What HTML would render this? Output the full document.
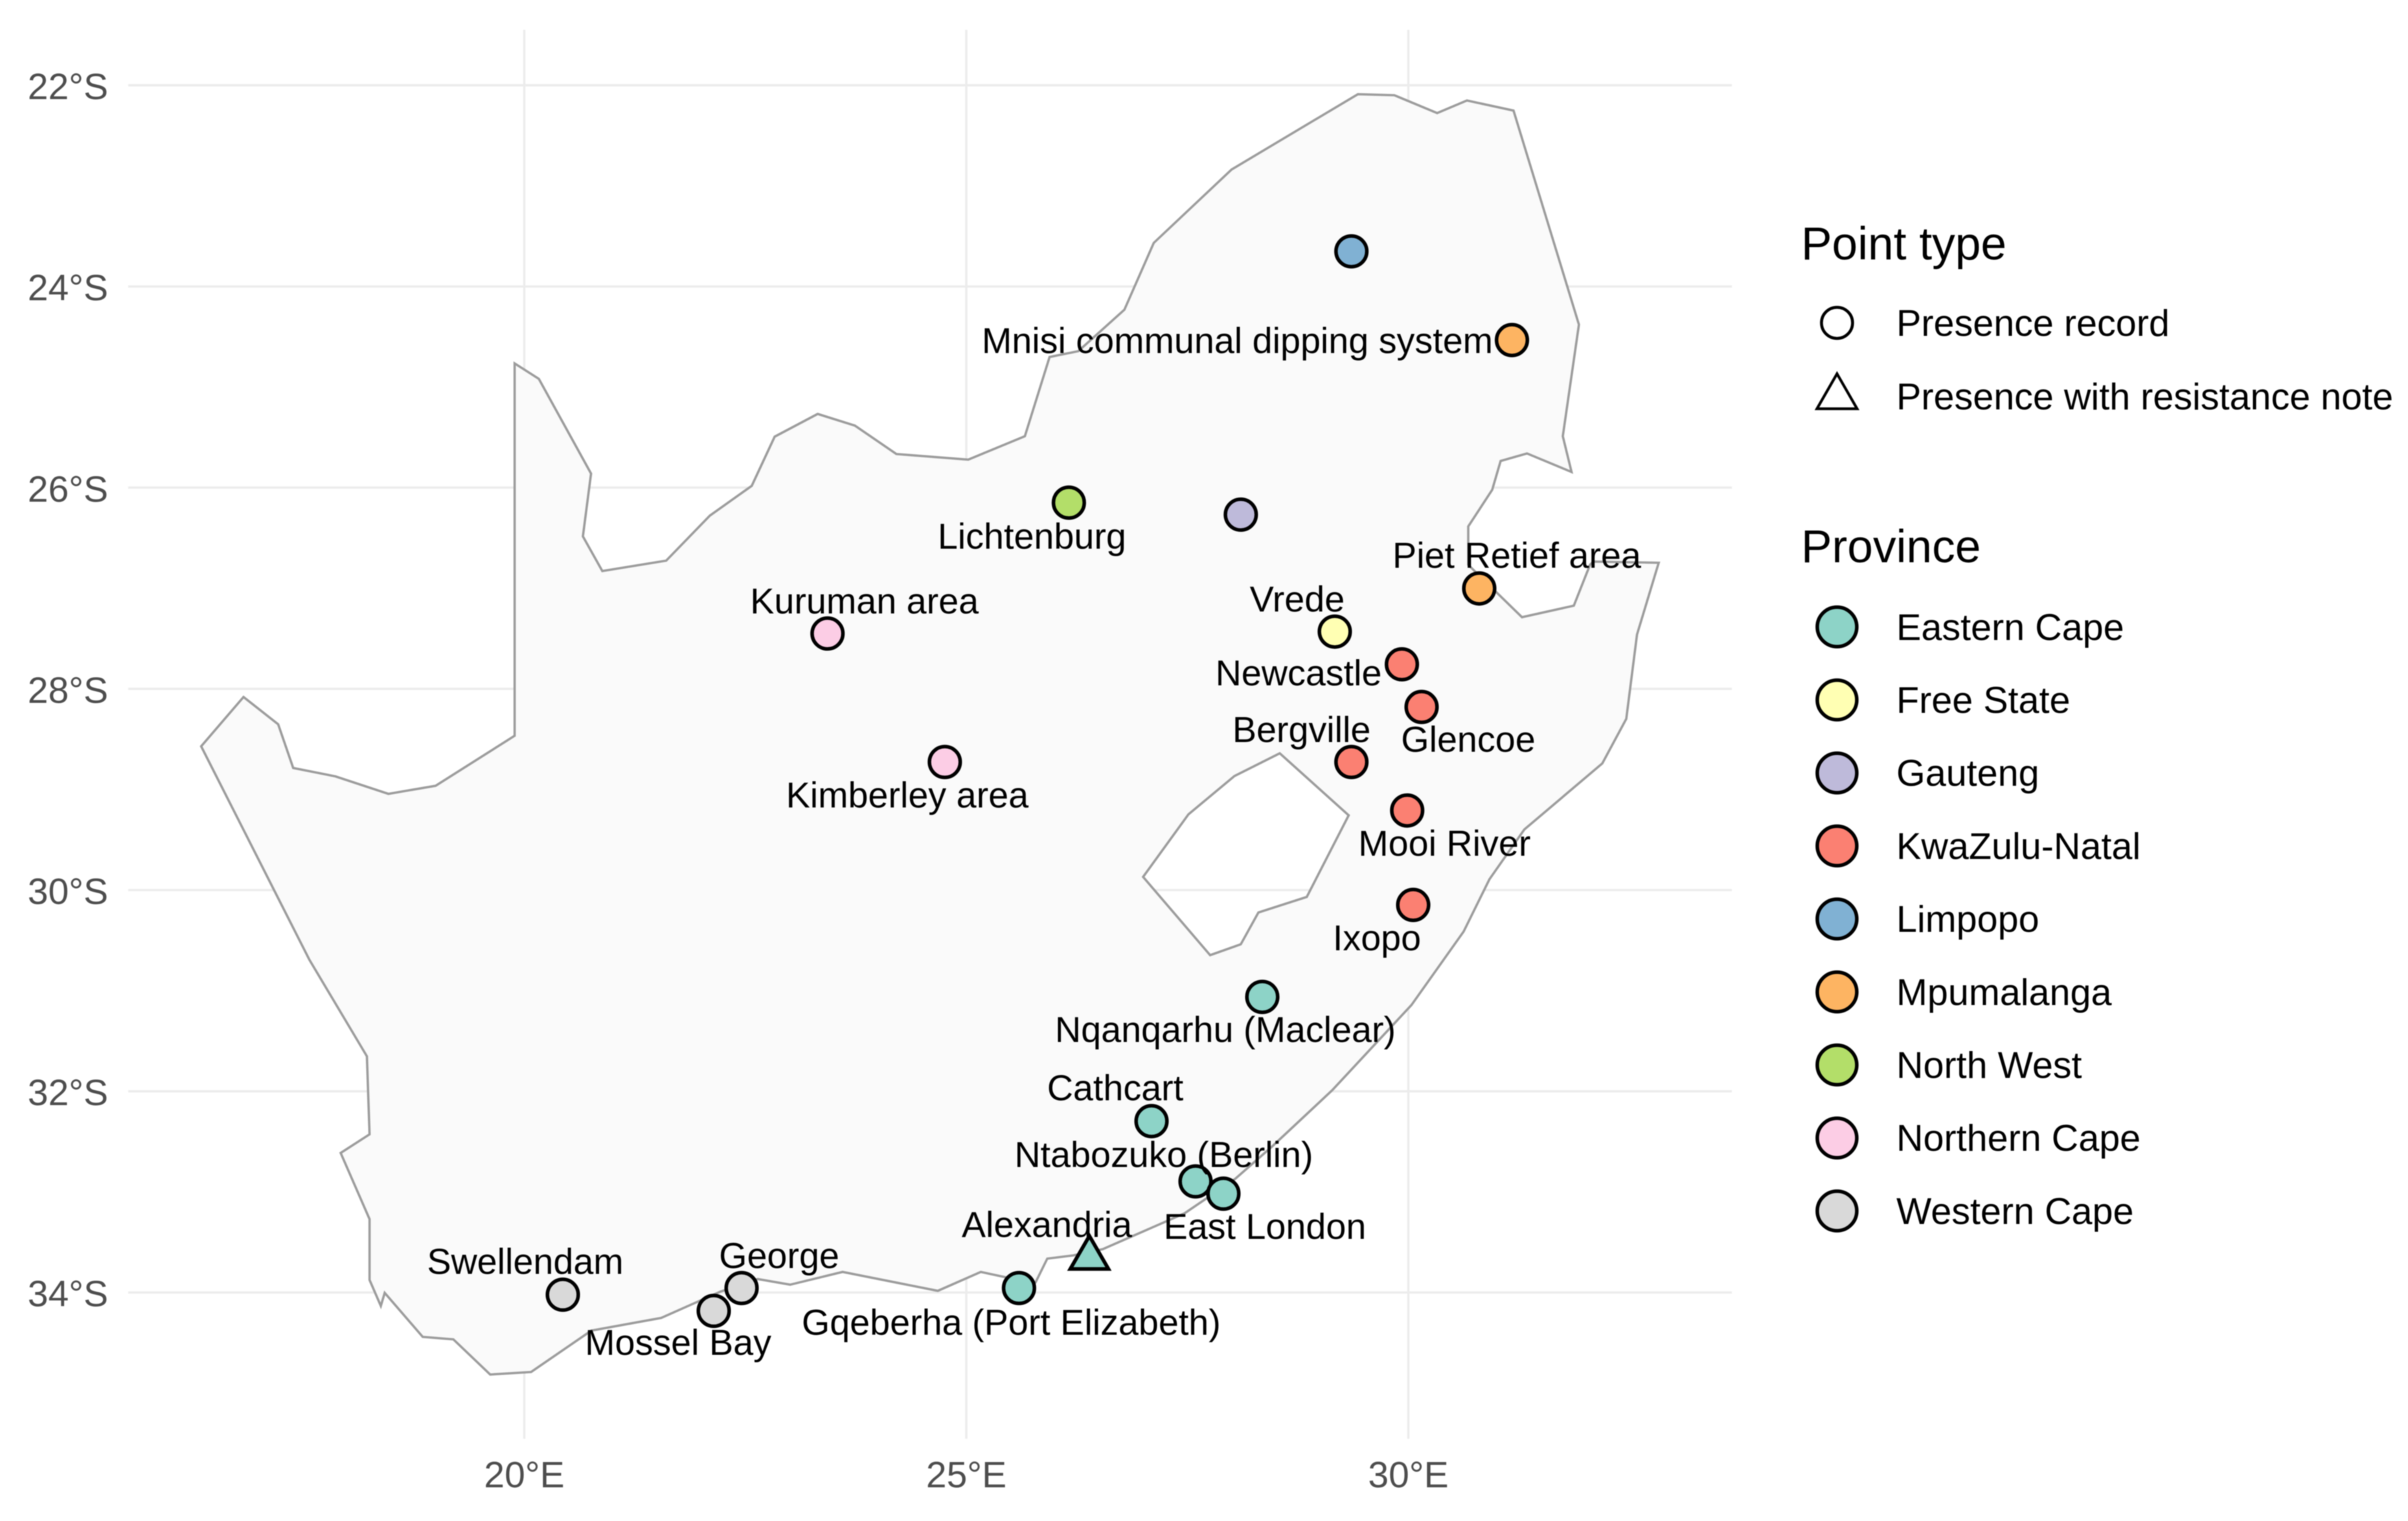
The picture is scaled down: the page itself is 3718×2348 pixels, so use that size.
<!DOCTYPE html>
<html lang="en">
<head>
<meta charset="utf-8">
<title>Presence records in South Africa</title>
<style>
html,body{margin:0;padding:0;background:#fff;width:3718px;height:2348px;overflow:hidden}
svg{display:block;font-family:"Liberation Sans",Arial,sans-serif;filter:blur(0.8px)}
</style>
</head>
<body>
<svg id="chart" xmlns="http://www.w3.org/2000/svg" width="3718" height="2348" viewBox="0 0 3718 2348">
  <rect x="-10" y="-10" width="3738" height="2368" fill="#ffffff"/>
  <g id="grid"></g>
  <g id="axes"></g>
  <g id="map"></g>
  <g id="points"></g>
  <g id="labels"></g>
  <g id="legend"></g>
</svg>
<script>
/* ---------- data ---------- */
const lonTicks = [20, 25, 30];
const latTicks = [22, 24, 26, 28, 30, 32, 34];
const lonTickLabels = ["20°E", "25°E", "30°E"];
const latTickLabels = ["22°S", "24°S", "26°S", "28°S", "30°S", "32°S", "34°S"];

const outlineLon = [19.891,20.165,20.755,20.663,20.883,21.605,22.099,22.573,22.832,23.319,23.740,24.209,25.022,25.662,25.942,26.267,26.788,27.120,28.001,29.429,29.842,30.326,30.663,31.190,31.930,31.747,31.846,31.342,31.044,30.949,30.678,30.678,31.286,31.872,32.055,32.092,32.832,32.587,32.465,32.194,31.312,30.917,30.626,30.036,29.139,28.458,28.040,27.469,26.543,26.209,25.916,25.784,25.450,25.164,24.678,23.601,23.007,22.641,22.216,21.549,20.758,20.077,19.615,19.198,18.851,18.421,18.377,18.250,18.250,17.923,18.250,18.220,17.570,16.345,16.824,17.216,17.386,17.864,18.463,18.997,19.891];
const outlineLat = [24.765,24.919,25.860,26.484,26.829,26.726,26.278,25.982,25.493,25.267,25.383,25.666,25.721,25.489,24.701,24.643,24.231,23.567,22.838,22.089,22.099,22.276,22.151,22.252,24.379,25.489,25.844,25.660,25.735,26.021,26.386,26.767,27.288,27.173,26.767,26.735,26.746,27.460,28.298,28.741,29.398,29.893,30.412,31.142,31.990,32.550,32.872,33.213,33.570,33.632,33.664,33.899,33.850,33.796,33.984,33.796,33.923,33.867,33.992,34.253,34.379,34.791,34.816,34.466,34.442,34.004,34.134,33.876,33.271,32.613,32.428,31.652,30.694,28.571,28.081,28.352,28.786,28.870,29.044,28.963,28.466];
const lesothoLon = [28.546,28.033,27.513,27.000,27.758,28.105,28.304,28.851,29.325];
const lesothoLat = [28.641,28.867,29.247,29.869,30.647,30.539,30.223,30.068,29.257];

const provinces = ["Eastern Cape","Free State","Gauteng","KwaZulu-Natal","Limpopo","Mpumalanga","North West","Northern Cape","Western Cape"];
const pointTypes = ["Presence record","Presence with resistance note"];

const siteNames = ["Kuruman area","Kimberley area","Mnisi communal dipping system","Lichtenburg","Piet Retief area","Vrede","Newcastle","Glencoe","Bergville","Mooi River","Ixopo","Nqanqarhu (Maclear)","Cathcart","Ntabozuko (Berlin)","East London","Alexandria","Gqeberha (Port Elizabeth)","Swellendam","George","Mossel Bay","",""];
const siteLon = [23.430,24.757,31.172,26.160,30.802,29.168,29.927,30.150,29.356,29.987,30.055,28.348,27.095,27.593,27.908,26.392,25.596,20.436,22.458,22.143,29.356,28.105];
const siteLat = [27.450,28.727,24.533,26.149,27.002,27.431,27.756,28.180,28.727,29.209,30.148,31.062,32.297,32.896,33.018,33.657,33.956,34.022,33.956,34.183,23.651,26.268];
const siteProvince = [7,7,5,6,5,1,3,3,3,3,3,0,0,0,0,0,0,8,8,8,4,2];
const siteType = [0,0,0,0,0,0,0,0,0,0,0,0,0,0,0,1,0,0,0,0,0,0];

/* ---------- layout and style ---------- */
const provinceColors = ["#8DD3C7","#FFFFB3","#BEBADA","#FB8072","#80B1D3","#FDB462","#B3DE69","#FCCDE5","#D9D9D9"];
const labelNudge = {
  "Kuruman area":[57,-31], "Kimberley area":[-58,70], "Mnisi communal dipping system":[-424,20],
  "Lichtenburg":[-57,71], "Piet Retief area":[58,-32], "Vrede":[-58,-31], "Newcastle":[-159.5,32.5],
  "Glencoe":[72,69], "Bergville":[-77,-31], "Mooi River":[57.6,69.6], "Ixopo":[-56,70],
  "Nqanqarhu (Maclear)":[-57,69.5], "Cathcart":[-56,-32], "Ntabozuko (Berlin)":[-49,-22],
  "East London":[64,70], "Alexandria":[-65.6,-32.6], "Gqeberha (Port Elizabeth)":[-12,72],
  "Swellendam":[-58,-32], "George":[58,-31], "Mossel Bay":[-55,68]
};
const panel = {left:198, right:2674, top:46, bottom:2221};
function xScale(lon){ return 809.5 + (lon - 20) * 136.5; }
function yScale(lat){ return 131.6 + (lat - 22) * 155.3; }

const NS = "http://www.w3.org/2000/svg";
function make(tag, parent, attrs, text){
  const el = document.createElementNS(NS, tag);
  for (const k in attrs) el.setAttribute(k, attrs[k]);
  if (text !== undefined) el.textContent = text;
  parent.appendChild(el);
  return el;
}
function slug(s){ return s.toLowerCase().replace(/[^a-z0-9]+/g, "-").replace(/^-|-$/g, ""); }
function ringPath(lons, lats){
  return lons.map((v, i) => (i ? "L" : "M") + xScale(v).toFixed(1) + " " + yScale(lats[i]).toFixed(1)).join(" ") + " Z";
}
function drawTriangle(parent, cx, cy, fill, up, down, halfWidth, strokeWidth){
  const d = [[cx, cy - up], [cx + halfWidth, cy + down], [cx - halfWidth, cy + down]].map(p => p.join(",")).join(" ");
  return make("polygon", parent, {points:d, fill:fill, stroke:"#000", "stroke-width":strokeWidth, "stroke-linejoin":"miter", "stroke-miterlimit":10});
}

/* ---------- grid and axes ---------- */
const gridG = document.getElementById("grid");
const axesG = document.getElementById("axes");
lonTicks.forEach((t, i) => {
  const line = make("line", gridG, {x1:xScale(t), x2:xScale(t), y1:panel.top, y2:panel.bottom, stroke:"#ececec", "stroke-width":3.5});
  
  
  const lab = make("text", axesG, {x:xScale(t), y:2296, "text-anchor":"middle", "font-size":57, fill:"#4d4d4d"}, lonTickLabels[i]);
  
  
});
latTicks.forEach((t, i) => {
  const line = make("line", gridG, {x1:panel.left, x2:panel.right, y1:yScale(t), y2:yScale(t), stroke:"#ececec", "stroke-width":3.5});
  
  
  const lab = make("text", axesG, {x:167, y:yScale(t) + 21.5, "text-anchor":"end", "font-size":57, fill:"#4d4d4d"}, latTickLabels[i]);
  
  
});

/* ---------- map ---------- */
const outline = make("path", document.getElementById("map"), {
  d: ringPath(outlineLon, outlineLat) + " " + ringPath(lesothoLon, lesothoLat),
  fill:"#fafafa", "fill-rule":"evenodd", stroke:"#9c9c9c", "stroke-width":3.6, "stroke-linejoin":"miter"
});



/* ---------- points and labels ---------- */
const pointsG = document.getElementById("points");
const labelsG = document.getElementById("labels");
siteNames.forEach((name, i) => {
  const cx = xScale(siteLon[i]);
  const cy = yScale(siteLat[i]);
  const fill = provinceColors[siteProvince[i]];
  let mark;
  if (siteType[i] === 1) {
    mark = drawTriangle(pointsG, cx, cy, fill, 34, 17, 29.5, 5.6);
  } else {
    mark = make("circle", pointsG, {cx:cx, cy:cy, r:23.8, fill:fill, stroke:"#000", "stroke-width":5.5});
  }
  
  
  if (name) {
    const n = labelNudge[name];
    const lab = make("text", labelsG, {x:cx + n[0], y:cy + n[1], "text-anchor":"middle", "font-size":55.7, fill:"#000"}, name);
    
    
  }
});

/* ---------- legend ---------- */
const legendG = document.getElementById("legend");
const symbolX = 2836.4;
const textX = 2928;
const typeTitle = make("text", legendG, {x:2781, y:400.5, "font-size":71.3, fill:"#000"}, "Point type");


const typeRowY = [498.4, 612];
pointTypes.forEach((name, i) => {
  const sym = i === 0
    ? make("circle", legendG, {cx:symbolX, cy:typeRowY[i], r:24, fill:"#fff", stroke:"#000", "stroke-width":4.6})
    : drawTriangle(legendG, symbolX, typeRowY[i], "#fff", 35, 19, 31, 4.2);
  
  
  const lab = make("text", legendG, {x:textX, y:typeRowY[i] + 20, "font-size":57.5, fill:"#000"}, name);
  
  
});
const provTitle = make("text", legendG, {x:2781, y:868, "font-size":71.3, fill:"#000"}, "Province");


provinces.forEach((name, i) => {
  const rowY = 967.8 + i * 112.7;
  const sym = make("circle", legendG, {cx:symbolX, cy:rowY, r:30.5, fill:provinceColors[i], stroke:"#000", "stroke-width":5.5});
  
  
  const lab = make("text", legendG, {x:textX, y:rowY + 20, "font-size":57.5, fill:"#000"}, name);
  
  
});
</script>
</body>
</html>
